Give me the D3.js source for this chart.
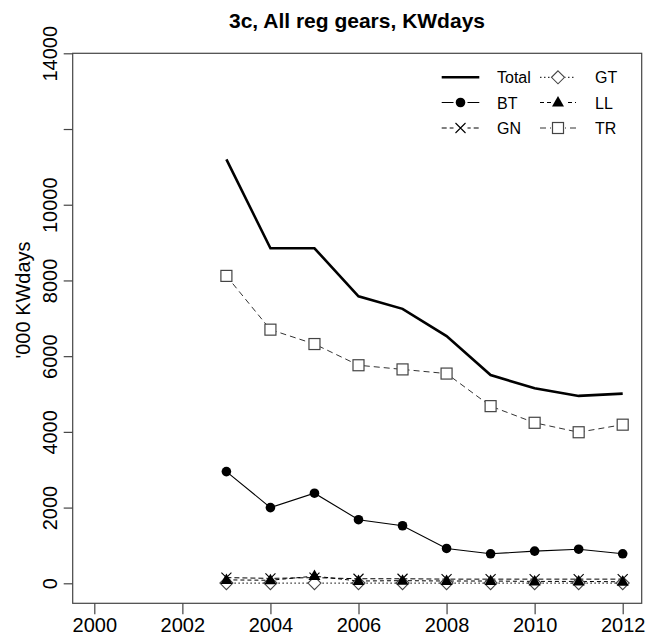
<!DOCTYPE html>
<html><head><meta charset="utf-8">
<script src="https://cdn.jsdelivr.net/npm/d3@7"></script>
<style>body{margin:0;background:#fff;}svg{display:block;font-family:"Liberation Sans",Arial,sans-serif;}</style>
</head><body>
<svg id="c" width="649" height="640"></svg>
<script>
const years = [2003,2004,2005,2006,2007,2008,2009,2010,2011,2012];
const total = [11200,8850,8850,7580,7250,6530,5500,5150,4950,5010];
const bt    = [2950,2000,2380,1680,1520,920,780,850,900,780];
const gn    = [150,130,150,120,120,110,110,110,110,110];
const gt    = [5,5,5,5,5,5,5,5,5,5];
const ll    = [90,80,190,60,70,60,60,50,50,40];
const tr    = [8120,6700,6320,5760,5650,5540,4680,4240,3990,4190];
const xTicks = [2000,2002,2004,2006,2008,2010,2012];
const yTicks = [0,2000,4000,6000,8000,10000,12000,14000];
const yTickLabels = ["0","2000","4000","6000","8000","10000","","14000"];
const title = "3c, All reg gears, KWdays";
const yLabel = "'000 KWdays";

const svg = d3.select("#c");
const box = {l:72.7, r:641.7, t:53.3, b:603.3};
const x = d3.scaleLinear().domain([2000,2012]).range([94.3,622.7]);
const y = d3.scaleLinear().domain([0,14000]).range([583.3,53.3]);
const axisCol = "#444";

svg.append("rect").attr("x",box.l).attr("y",box.t).attr("width",box.r-box.l).attr("height",box.b-box.t)
  .attr("fill","none").attr("stroke",axisCol).attr("stroke-width",1.2);

// x axis
const xa = svg.append("g").attr("transform",`translate(0,${box.b})`)
  .call(d3.axisBottom(x).tickValues(xTicks).tickFormat(d3.format("d")).tickSize(11).tickPadding(4));
xa.select(".domain").remove();
xa.selectAll("line").attr("stroke",axisCol).attr("stroke-width",1.2);
xa.selectAll("text").attr("font-size",20).attr("fill","#000");

// y axis
const ya = svg.append("g").attr("transform",`translate(${box.l},0)`)
  .call(d3.axisLeft(y).tickValues(yTicks).tickFormat((d,i)=>yTickLabels[i]).tickSize(9).tickPadding(4));
ya.select(".domain").remove();
ya.selectAll("line").attr("stroke",axisCol).attr("stroke-width",1.2);
ya.selectAll("text").attr("font-size",20).attr("fill","#000")
  .attr("text-anchor","middle").attr("dy",0)
  .attr("transform",function(){const t=d3.select(this); return null;})
  .each(function(d){
    d3.select(this).attr("x",null).attr("transform",`translate(-16,0) rotate(-90)`).attr("y",0).attr("dy","0");
  });

svg.append("text").attr("x",357).attr("y",28).attr("text-anchor","middle")
  .attr("font-weight","bold").attr("font-size",21).text(title);
svg.append("text").attr("transform",`translate(30,300) rotate(-90)`).attr("text-anchor","middle")
  .attr("font-size",20).text(yLabel);

const series = [
  {name:"Total", vals:total, dash:null, w:2.6, col:"#000", mark:null},
  {name:"BT", vals:bt, dash:null, w:1.1, col:"#000", mark:"circle"},
  {name:"GN", vals:gn, dash:"5,3", w:1, col:"#000", mark:"cross"},
  {name:"GT", vals:gt, dash:"1.5,2.5", w:1, col:"#000", mark:"diamond"},
  {name:"LL", vals:ll, dash:"4,3", w:1, col:"#000", mark:"triangle"},
  {name:"TR", vals:tr, dash:"6,4", w:1, col:"#333", mark:"square"}
];

function drawMark(g, type, cx, cy){
  if(type==="circle") g.append("circle").attr("cx",cx).attr("cy",cy).attr("r",4.8).attr("fill","#000");
  else if(type==="square") g.append("rect").attr("x",cx-5.5).attr("y",cy-5.5).attr("width",11).attr("height",11)
    .attr("fill","#fff").attr("stroke","#444").attr("stroke-width",1.2);
  else if(type==="diamond") g.append("path").attr("d",`M${cx},${cy-6.5}L${cx+6.5},${cy}L${cx},${cy+6.5}L${cx-6.5},${cy}Z`)
    .attr("fill","#fff").attr("stroke","#444").attr("stroke-width",1.1);
  else if(type==="triangle") g.append("path").attr("d",`M${cx},${cy-6.5}L${cx+6},${cy+4}L${cx-6},${cy+4}Z`).attr("fill","#000");
  else if(type==="cross") g.append("path").attr("d",`M${cx-5},${cy-5}L${cx+5},${cy+5}M${cx-5},${cy+5}L${cx+5},${cy-5}`)
    .attr("stroke","#000").attr("stroke-width",1.1);
}

const line = d3.line().x(d=>x(d[0])).y(d=>y(d[1]));
const plot = svg.append("g");
series.forEach(s=>{
  const pts = years.map((yr,i)=>[yr,s.vals[i]]);
  plot.append("path").attr("d",line(pts)).attr("fill","none").attr("stroke",s.col)
    .attr("stroke-width",s.w).attr("stroke-dasharray",s.dash);
});
series.forEach(s=>{
  if(!s.mark) return;
  years.forEach((yr,i)=>drawMark(plot,s.mark,x(yr),y(s.vals[i])));
});

// legend
const leg = svg.append("g");
const cols = [{lx1:441.7,lx2:479.3,tx:497},{lx1:540,lx2:576,tx:595}];
const rowsY = [77.3,102.5,128];
series.forEach((s,i)=>{
  const c = cols[i<3?0:1], ry = rowsY[i%3];
  leg.append("line").attr("x1",c.lx1).attr("x2",c.lx2).attr("y1",ry).attr("y2",ry)
    .attr("stroke",s.col).attr("stroke-width",s.w).attr("stroke-dasharray",s.dash);
  if(s.mark){
    leg.append("rect").attr("x",(c.lx1+c.lx2)/2-7).attr("y",ry-7).attr("width",14).attr("height",14).attr("fill","#fff");
    drawMark(leg,s.mark,(c.lx1+c.lx2)/2,ry);
  }
  leg.append("text").attr("x",c.tx).attr("y",ry+6).attr("font-size",16).text(s.name);
});
</script>
</body></html>
